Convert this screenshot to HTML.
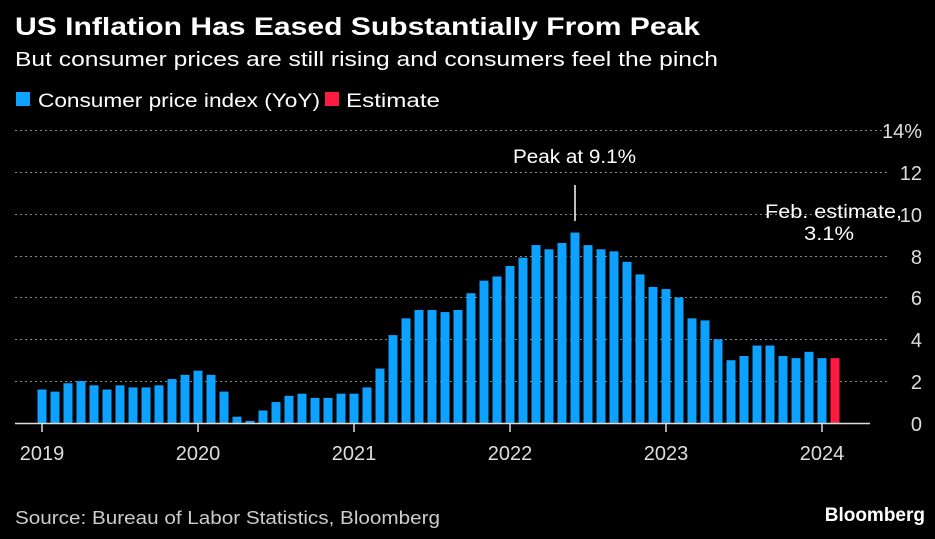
<!DOCTYPE html>
<html><head><meta charset="utf-8"><style>
body{margin:0;background:#000;width:935px;height:534px;overflow:hidden;font-family:"Liberation Sans",sans-serif;color:#fff}
</style></head><body>
<svg width="935" height="534" xmlns="http://www.w3.org/2000/svg" font-family="Liberation Sans, sans-serif">
<text x="15" y="35" font-size="25" font-weight="bold" fill="#fff" textLength="685" lengthAdjust="spacingAndGlyphs">US Inflation Has Eased Substantially From Peak</text>
<text x="15" y="66" font-size="20" fill="#fff" textLength="703" lengthAdjust="spacingAndGlyphs">But consumer prices are still rising and consumers feel the pinch</text>
<rect x="16" y="92" width="14" height="14" fill="#0da2ff"/>
<text x="38" y="107" font-size="19" fill="#fff" textLength="282" lengthAdjust="spacingAndGlyphs">Consumer price index (YoY)</text>
<rect x="325" y="92" width="14" height="14" fill="#ff1a40"/>
<text x="346" y="107" font-size="19" fill="#fff" textLength="94" lengthAdjust="spacingAndGlyphs">Estimate</text>
<g stroke="#888" stroke-dasharray="2,3" stroke-width="1">
<line x1="15" x2="888" y1="130.5" y2="130.5"/><line x1="15" x2="888" y1="172.5" y2="172.5"/>
<line x1="15" x2="888" y1="214.5" y2="214.5"/><line x1="15" x2="888" y1="256.5" y2="256.5"/>
<line x1="15" x2="888" y1="297.5" y2="297.5"/><line x1="15" x2="888" y1="339.5" y2="339.5"/>
<line x1="15" x2="888" y1="381.5" y2="381.5"/>
</g>
<g font-size="20" fill="#ddd" text-anchor="end">
<text x="922" y="138">14<tspan>%</tspan></text><text x="922" y="180">12</text><text x="922" y="222">10</text>
<text x="922" y="264">8</text><text x="922" y="305">6</text><text x="922" y="347">4</text><text x="922" y="389">2</text><text x="922" y="431">0</text>
</g>
<g id="bars" fill="#0da2ff"></g>
<line x1="15" x2="870" y1="423.5" y2="423.5" stroke="#ddd" stroke-width="1.5"/>
<g stroke="#ddd" stroke-width="1.5">
<line x1="42" x2="42" y1="423" y2="432"/><line x1="198" x2="198" y1="423" y2="432"/><line x1="354" x2="354" y1="423" y2="432"/>
<line x1="510" x2="510" y1="423" y2="432"/><line x1="666" x2="666" y1="423" y2="432"/><line x1="822" x2="822" y1="423" y2="432"/>
</g>
<g font-size="20" fill="#ddd" text-anchor="middle">
<text x="42" y="460">2019</text><text x="198" y="460">2020</text><text x="354" y="460">2021</text>
<text x="510" y="460">2022</text><text x="666" y="460">2023</text><text x="822" y="460">2024</text>
</g>
<line x1="575" x2="575" y1="185" y2="221" stroke="#fff" stroke-width="1.5"/>
<text x="513" y="163" font-size="19" fill="#fff" textLength="123" lengthAdjust="spacingAndGlyphs">Peak at 9.1%</text>
<text x="765" y="218" font-size="19" fill="#fff" textLength="137" lengthAdjust="spacingAndGlyphs">Feb. estimate,</text>
<text x="804" y="240" font-size="19" fill="#fff" textLength="50" lengthAdjust="spacingAndGlyphs">3.1%</text>
<text x="15" y="524" font-size="18" fill="#ccc" textLength="425" lengthAdjust="spacingAndGlyphs">Source: Bureau of Labor Statistics, Bloomberg</text>
<text x="925" y="521" font-size="19" font-weight="bold" fill="#fff" text-anchor="end">Bloomberg</text>
</svg>
<script>
var v=[1.6,1.5,1.9,2.0,1.8,1.6,1.8,1.7,1.7,1.8,2.1,2.3,2.5,2.3,1.5,0.3,0.1,0.6,1.0,1.3,1.4,1.2,1.2,1.4,1.4,1.7,2.6,4.2,5.0,5.4,5.4,5.3,5.4,6.2,6.8,7.0,7.5,7.9,8.5,8.3,8.6,9.1,8.5,8.3,8.2,7.7,7.1,6.5,6.4,6.0,5.0,4.9,4.0,3.0,3.2,3.7,3.7,3.2,3.1,3.4,3.1,3.1];
var g=document.getElementById('bars'),ns='http://www.w3.org/2000/svg';
v.forEach(function(d,i){var r=document.createElementNS(ns,'rect');var h=d*20.93;
r.setAttribute('x',42+i*13-4.5);r.setAttribute('width',9);r.setAttribute('y',423-h);r.setAttribute('height',h);
if(i==61)r.setAttribute('fill','#ff1a40');g.appendChild(r);});
</script>
</body></html>
